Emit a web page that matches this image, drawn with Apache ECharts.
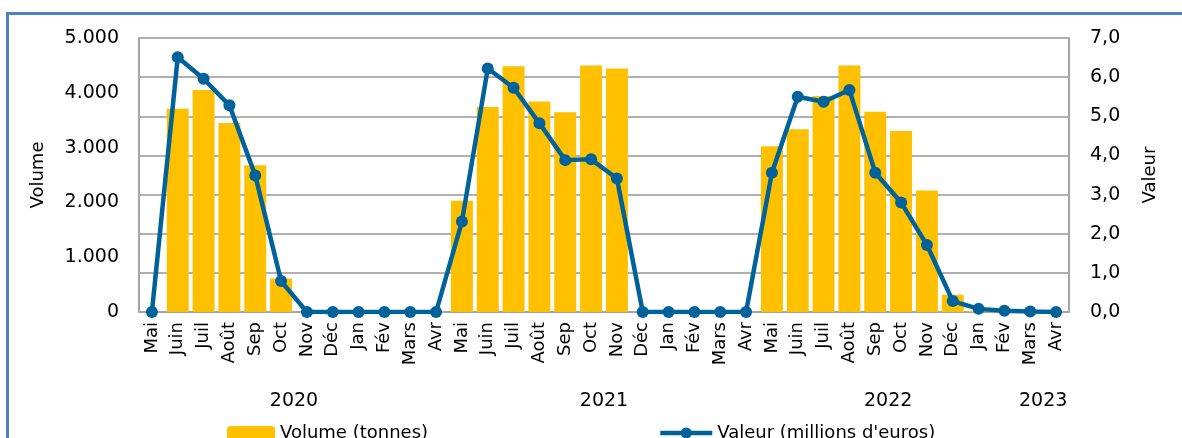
<!DOCTYPE html>
<html><head><meta charset="utf-8">
<script src="https://cdn.jsdelivr.net/npm/echarts@6/dist/echarts.min.js"></script>
<style>
html,body{margin:0;padding:0;background:#fff;overflow:hidden}
#frame{position:absolute;left:6px;top:12px;width:1300px;height:600px;border:3px solid #4F81BD;box-sizing:border-box}
#c{position:absolute;left:0;top:0;width:1182px;height:438px}
</style></head><body>
<div id="frame"></div>
<div id="c"></div>
<script>
const months = ['Mai','Juin','Juil','Août','Sep','Oct','Nov','Déc','Jan','Fév','Mars','Avr',
  'Mai','Juin','Juil','Août','Sep','Oct','Nov','Déc','Jan','Fév','Mars','Avr',
  'Mai','Juin','Juil','Août','Sep','Oct','Nov','Déc','Jan','Fév','Mars','Avr'];
const volume = [0,3710,4050,3450,2680,610,0,0,0,0,0,0,
  2030,3740,4485,3840,3645,4500,4445,0,0,0,0,0,
  3025,3335,3940,4500,3655,3305,2215,315,20,0,0,0];
const valeur = [0,6.51,5.96,5.28,3.49,0.79,0,0,0,0,0,0,
  2.31,6.22,5.73,4.82,3.88,3.90,3.41,0,0,0,0,0,
  3.56,5.50,5.37,5.67,3.56,2.80,1.71,0.28,0.08,0.03,0.01,0];
const yearLabels = {6:'2020',18:'2021',29:'2022',35:'2023'};
const volTicks = ['0','1.000','2.000','3.000','4.000','5.000'];

const FONT = 'DejaVu Sans';
const chart = echarts.init(document.getElementById('c'));
chart.setOption({
  animation:false,
  textStyle:{fontFamily:FONT},
  grid:{left:139,right:113,top:38,bottom:126},
  legend:[
    {data:['Volume (tonnes)'],left:222,top:419,itemWidth:48,itemHeight:14,itemGap:6,
     textStyle:{fontSize:18,color:'#000',fontFamily:FONT}},
    {data:["Valeur (millions d'euros)"],left:653,top:419,itemWidth:52,itemHeight:14,
     lineStyle:{width:4.5},
     textStyle:{fontSize:18,color:'#000',fontFamily:FONT}}
  ],
  xAxis:[
    {type:'category',data:months,boundaryGap:true,
     axisLine:{show:true,lineStyle:{color:'#A6A6A6',width:2}},
     axisTick:{show:false},
     axisLabel:{rotate:90,interval:0,fontSize:18,color:'#000',margin:10,fontFamily:FONT}},
    {type:'value',min:0,max:36,interval:1,position:'bottom',
     axisLine:{show:false},axisTick:{show:false},splitLine:{show:false},
     axisLabel:{margin:80,fontSize:19,color:'#000',fontFamily:FONT,
       formatter:v=>yearLabels[v]||''}}
  ],
  yAxis:[
    {type:'value',min:0,max:5000,interval:1000,name:'Volume',nameLocation:'middle',nameGap:92,
     nameRotate:90,nameTextStyle:{fontSize:18,color:'#000',fontFamily:FONT},
     axisLine:{show:true,lineStyle:{color:'#A6A6A6',width:2}},axisTick:{show:false},
     splitLine:{show:false},
     axisLabel:{fontSize:19,color:'#000',margin:20,fontFamily:FONT,
       formatter:v=>volTicks[Math.round(v/1000)]}},
    {type:'value',min:0,max:7,interval:1,name:'Valeur',nameLocation:'middle',nameGap:72,
     nameRotate:90,nameTextStyle:{fontSize:18,color:'#000',fontFamily:FONT},
     axisLine:{show:true,lineStyle:{color:'#A6A6A6',width:2}},axisTick:{show:false},
     splitLine:{show:true,lineStyle:{color:'#B0B0B0',width:2}},
     axisLabel:{fontSize:19,color:'#000',margin:21,fontFamily:FONT,
       formatter:v=>v.toFixed(1).replace('.',',')}}
  ],
  series:[
    {name:'Volume (tonnes)',type:'bar',data:volume,xAxisIndex:0,yAxisIndex:0,
     barCategoryGap:'15%',itemStyle:{color:'#FFC000'}},
    {name:"Valeur (millions d'euros)",type:'line',data:valeur,xAxisIndex:0,yAxisIndex:1,
     symbol:'circle',symbolSize:12,lineStyle:{color:'#00629B',width:4.5},
     itemStyle:{color:'#00629B'},z:5}
  ]
});
</script>
</body></html>
